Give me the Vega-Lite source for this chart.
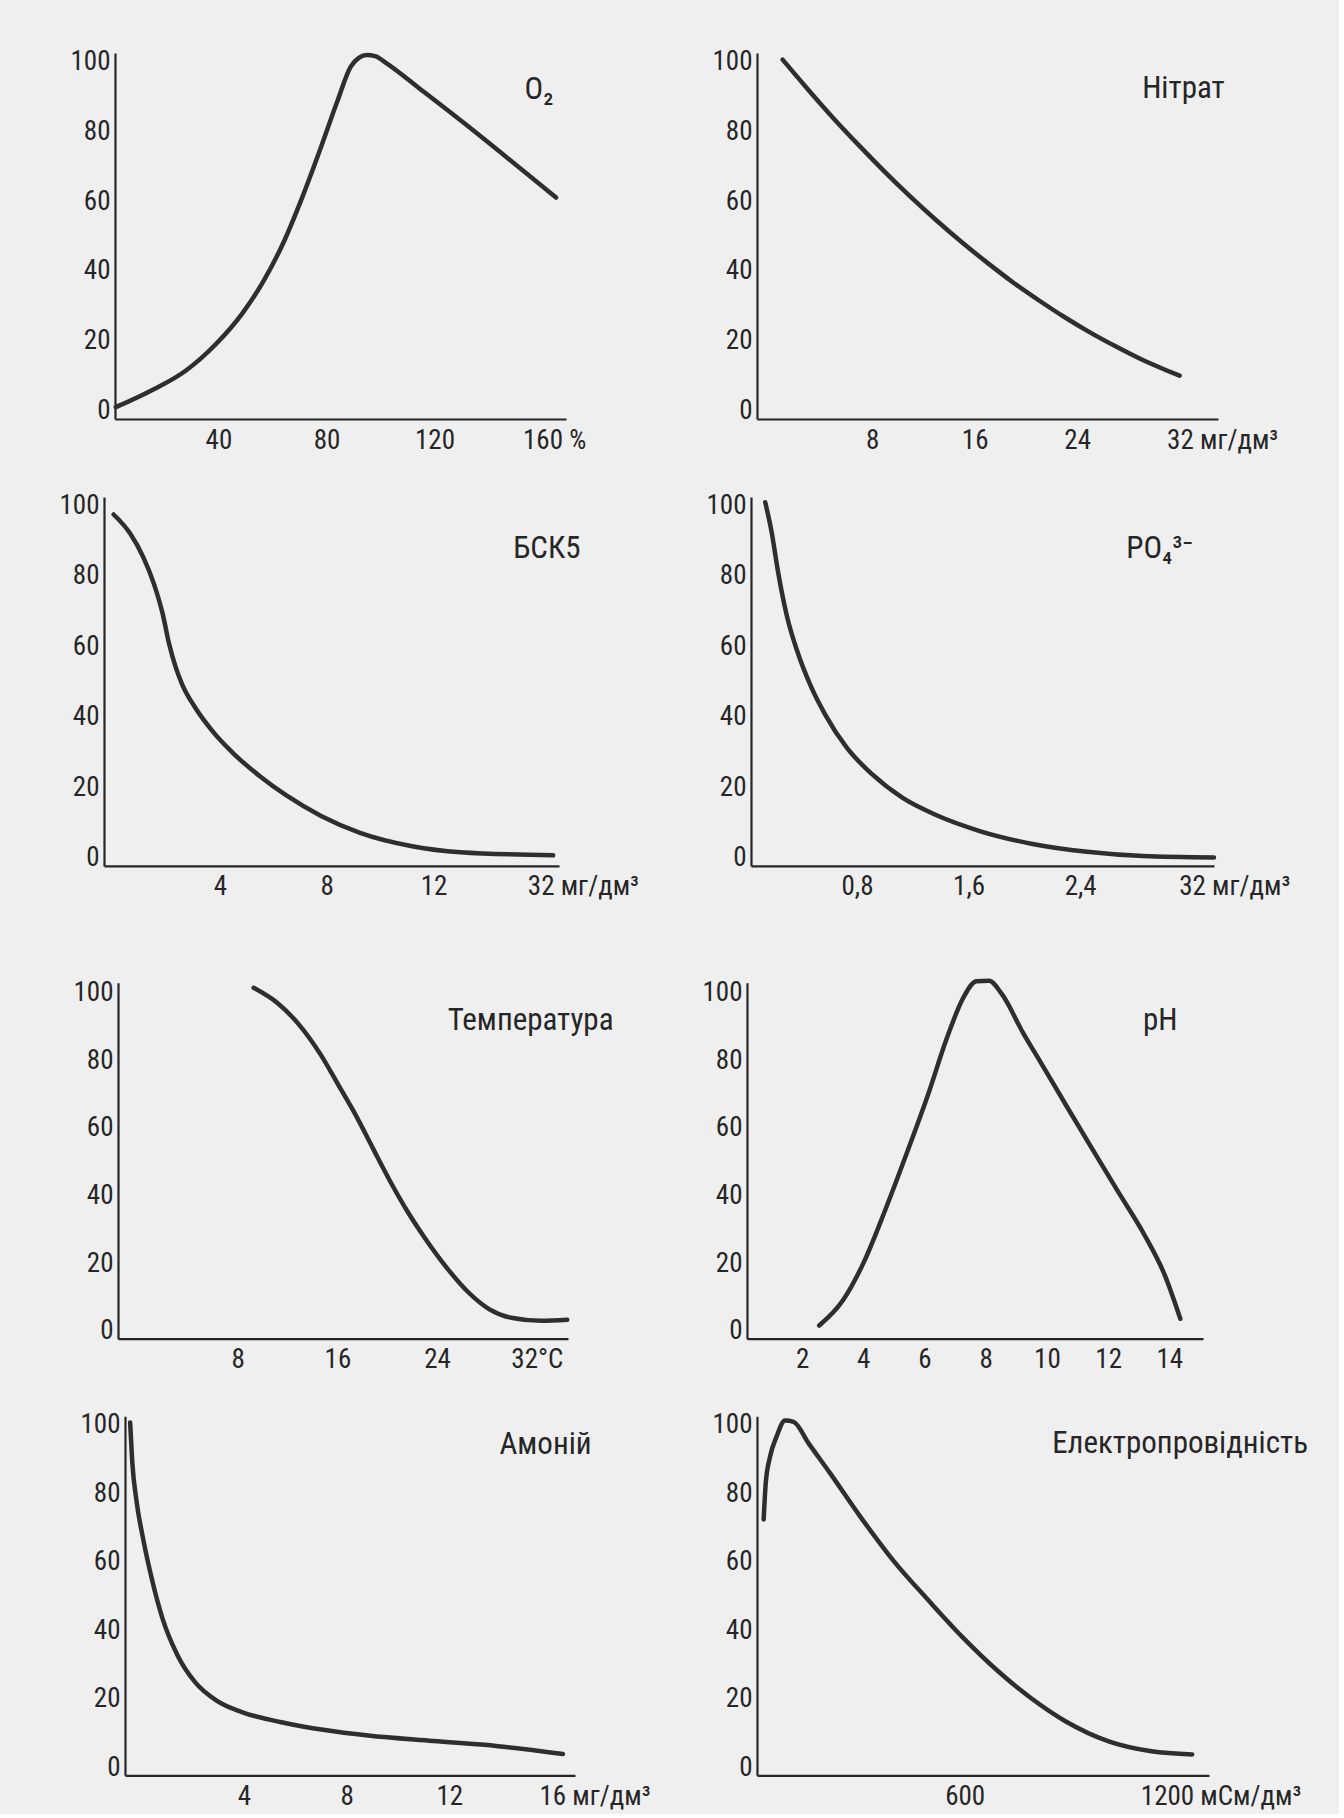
{
  "$schema": "https://vega.github.io/schema/vega-lite/v6.json",
  "background": "#efefef",
  "padding": {"left": 0, "top": 47, "right": 30, "bottom": 4},
  "datasets": {
    "curves": [
      {"panel": "O2", "x": 2, "y": 1}, {"panel": "O2", "x": 15, "y": 5.7}, {"panel": "O2", "x": 28, "y": 11.5}, {"panel": "O2", "x": 39, "y": 19}, {"panel": "O2", "x": 49, "y": 28}, {"panel": "O2", "x": 57, "y": 37.5}, {"panel": "O2", "x": 64, "y": 48}, {"panel": "O2", "x": 71, "y": 61}, {"panel": "O2", "x": 78, "y": 75.5}, {"panel": "O2", "x": 84, "y": 88.5}, {"panel": "O2", "x": 89, "y": 98.5}, {"panel": "O2", "x": 92, "y": 101}, {"panel": "O2", "x": 95, "y": 101.8}, {"panel": "O2", "x": 98, "y": 101.5}, {"panel": "O2", "x": 102, "y": 99.6}, {"panel": "O2", "x": 115, "y": 91.9}, {"panel": "O2", "x": 130, "y": 82.9}, {"panel": "O2", "x": 145, "y": 73.6}, {"panel": "O2", "x": 165, "y": 61},
      {"panel": "NO3", "x": 1, "y": 100.5}, {"panel": "NO3", "x": 3, "y": 91.9}, {"panel": "NO3", "x": 5, "y": 83.6}, {"panel": "NO3", "x": 7, "y": 75.8}, {"panel": "NO3", "x": 9, "y": 68.3}, {"panel": "NO3", "x": 11, "y": 61.2}, {"panel": "NO3", "x": 13, "y": 54.5}, {"panel": "NO3", "x": 15, "y": 48.2}, {"panel": "NO3", "x": 17, "y": 42.3}, {"panel": "NO3", "x": 19, "y": 36.7}, {"panel": "NO3", "x": 21, "y": 31.6}, {"panel": "NO3", "x": 23, "y": 26.8}, {"panel": "NO3", "x": 25, "y": 22.4}, {"panel": "NO3", "x": 27, "y": 18.4}, {"panel": "NO3", "x": 29, "y": 14.7}, {"panel": "NO3", "x": 31, "y": 11.5}, {"panel": "NO3", "x": 32, "y": 10},
      {"panel": "BSK5", "x": 0.02, "y": 97.4}, {"panel": "BSK5", "x": 0.64, "y": 92}, {"panel": "BSK5", "x": 1.13, "y": 85.3}, {"panel": "BSK5", "x": 1.53, "y": 77.7}, {"panel": "BSK5", "x": 1.86, "y": 69.1}, {"panel": "BSK5", "x": 2.1, "y": 60.6}, {"panel": "BSK5", "x": 2.35, "y": 53.9}, {"panel": "BSK5", "x": 2.59, "y": 49.1}, {"panel": "BSK5", "x": 3.08, "y": 42.5}, {"panel": "BSK5", "x": 3.73, "y": 35.8}, {"panel": "BSK5", "x": 4.54, "y": 29.3}, {"panel": "BSK5", "x": 5.51, "y": 23}, {"panel": "BSK5", "x": 6.49, "y": 17.6}, {"panel": "BSK5", "x": 7.79, "y": 11.8}, {"panel": "BSK5", "x": 9.25, "y": 7}, {"panel": "BSK5", "x": 11.2, "y": 3.2}, {"panel": "BSK5", "x": 13, "y": 1.5}, {"panel": "BSK5", "x": 16.48, "y": 0.6},
      {"panel": "PO4", "x": 0.142, "y": 100.9}, {"panel": "PO4", "x": 0.188, "y": 92.4}, {"panel": "PO4", "x": 0.234, "y": 81.1}, {"panel": "PO4", "x": 0.296, "y": 68.8}, {"panel": "PO4", "x": 0.373, "y": 58.4}, {"panel": "PO4", "x": 0.465, "y": 49}, {"panel": "PO4", "x": 0.573, "y": 40.5}, {"panel": "PO4", "x": 0.728, "y": 31.1}, {"panel": "PO4", "x": 0.912, "y": 23.5}, {"panel": "PO4", "x": 1.128, "y": 16.9}, {"panel": "PO4", "x": 1.375, "y": 11.9}, {"panel": "PO4", "x": 1.68, "y": 7.5}, {"panel": "PO4", "x": 2.05, "y": 3.9}, {"panel": "PO4", "x": 2.45, "y": 1.6}, {"panel": "PO4", "x": 2.85, "y": 0.4}, {"panel": "PO4", "x": 3.36, "y": 0},
      {"panel": "T", "x": 9.28, "y": 101.5}, {"panel": "T", "x": 11.19, "y": 97}, {"panel": "T", "x": 12.92, "y": 90.6}, {"panel": "T", "x": 14.66, "y": 81.7}, {"panel": "T", "x": 16.05, "y": 72.9}, {"panel": "T", "x": 17.44, "y": 64}, {"panel": "T", "x": 18.83, "y": 54.1}, {"panel": "T", "x": 20.22, "y": 44.3}, {"panel": "T", "x": 21.6, "y": 35.4}, {"panel": "T", "x": 23, "y": 27.5}, {"panel": "T", "x": 24.73, "y": 18.8}, {"panel": "T", "x": 26.46, "y": 11.5}, {"panel": "T", "x": 28.2, "y": 6.3}, {"panel": "T", "x": 29.94, "y": 3.8}, {"panel": "T", "x": 32.36, "y": 2.9}, {"panel": "T", "x": 34.44, "y": 3.2},
      {"panel": "pH", "x": 2.56, "y": 1.5}, {"panel": "pH", "x": 3.33, "y": 8.9}, {"panel": "pH", "x": 4.03, "y": 20.5}, {"panel": "pH", "x": 4.73, "y": 36}, {"panel": "pH", "x": 5.44, "y": 53}, {"panel": "pH", "x": 6.14, "y": 70.5}, {"panel": "pH", "x": 6.7, "y": 85.8}, {"panel": "pH", "x": 7.27, "y": 98.6}, {"panel": "pH", "x": 7.69, "y": 103.4}, {"panel": "pH", "x": 8.11, "y": 103.6}, {"panel": "pH", "x": 8.53, "y": 99.6}, {"panel": "pH", "x": 9.23, "y": 88}, {"panel": "pH", "x": 9.79, "y": 79.5}, {"panel": "pH", "x": 10.64, "y": 66.5}, {"panel": "pH", "x": 11.48, "y": 53.8}, {"panel": "pH", "x": 12.32, "y": 41.2}, {"panel": "pH", "x": 13.17, "y": 28.6}, {"panel": "pH", "x": 13.87, "y": 16}, {"panel": "pH", "x": 14.36, "y": 3.5},
      {"panel": "NH4", "x": -0.44, "y": 100.6}, {"panel": "NH4", "x": -0.36, "y": 89.4}, {"panel": "NH4", "x": -0.19, "y": 77.6}, {"panel": "NH4", "x": 0.06, "y": 66.9}, {"panel": "NH4", "x": 0.4, "y": 55.1}, {"panel": "NH4", "x": 0.82, "y": 43.4}, {"panel": "NH4", "x": 1.41, "y": 32.6}, {"panel": "NH4", "x": 2.09, "y": 24.8}, {"panel": "NH4", "x": 2.93, "y": 19.4}, {"panel": "NH4", "x": 3.94, "y": 16}, {"panel": "NH4", "x": 5.46, "y": 13.1}, {"panel": "NH4", "x": 7.15, "y": 10.8}, {"panel": "NH4", "x": 8.84, "y": 9.2}, {"panel": "NH4", "x": 11.37, "y": 7.6}, {"panel": "NH4", "x": 13.9, "y": 6.1}, {"panel": "NH4", "x": 16.43, "y": 3.8},
      {"panel": "EC", "x": 1.8, "y": 72.3}, {"panel": "EC", "x": 8, "y": 82.9}, {"panel": "EC", "x": 20.8, "y": 90.6}, {"panel": "EC", "x": 39.9, "y": 96.4}, {"panel": "EC", "x": 65.5, "y": 101.2}, {"panel": "EC", "x": 91, "y": 100.8}, {"panel": "EC", "x": 135.7, "y": 94.5}, {"panel": "EC", "x": 199.4, "y": 85.8}, {"panel": "EC", "x": 288.7, "y": 73.2}, {"panel": "EC", "x": 390.8, "y": 59.9}, {"panel": "EC", "x": 492.9, "y": 48.6}, {"panel": "EC", "x": 594.9, "y": 37.8}, {"panel": "EC", "x": 697, "y": 28.2}, {"panel": "EC", "x": 799, "y": 20}, {"panel": "EC", "x": 901, "y": 13.3}, {"panel": "EC", "x": 1028.6, "y": 7.5}, {"panel": "EC", "x": 1156, "y": 4.6}, {"panel": "EC", "x": 1277, "y": 3.7}
    ]
  },
  "spacing": 77.7,
  "vconcat": [
    {
      "spacing": 37.9,
      "vconcat": [
        {
          "bounds": "flush",
          "spacing": 1,
          "hconcat": [
            {"width": 114, "height": 1, "data": {"values": [{}]}, "mark": {"type": "point", "opacity": 0}},
            {
              "width": 451, "height": 366,
              "layer": [
                {
                  "data": {"name": "curves"},
                  "transform": [{"filter": "datum.panel == 'O2'"}],
                  "mark": {"type": "line", "interpolate": "monotone"},
                  "encoding": {
                    "x": {"field": "x", "type": "quantitative", "scale": {"domain": [1.7, 168.7], "nice": false, "zero": false},
                      "axis": {"title": null, "values": [40, 80, 120, 160], "labelExpr": "datum.value == 160 ? '160 %' : datum.label",
                        "labelAlign": {"condition": {"test": "datum.value == 160", "value": "left"}, "value": "center"},
                        "labelOffset": {"condition": {"test": "datum.value == 160", "value": -20}, "value": 0}}},
                    "y": {"field": "y", "type": "quantitative", "scale": {"domain": [-2.4, 102.4], "nice": false, "zero": false},
                      "axis": {"title": null, "values": [0, 20, 40, 60, 80, 100]}}
                  }
                },
                {
                  "data": {"values": [{"label": "O₂"}]},
                  "mark": {"type": "text"},
                  "encoding": {
                    "x": {"datum": 158.7, "type": "quantitative", "title": null},
                    "y": {"datum": 91.7, "type": "quantitative", "title": null},
                    "text": {"field": "label"}
                  }
                }
              ]
            },
            {"width": 189, "height": 1, "data": {"values": [{}]}, "mark": {"type": "point", "opacity": 0}},
            {
              "width": 461, "height": 366,
              "layer": [
                {
                  "data": {"name": "curves"},
                  "transform": [{"filter": "datum.panel == 'NO3'"}],
                  "mark": {"type": "line", "interpolate": "monotone"},
                  "encoding": {
                    "x": {"field": "x", "type": "quantitative", "scale": {"domain": [-1, 35], "nice": false, "zero": false},
                      "axis": {"title": null, "values": [8, 16, 24, 32], "labelExpr": "datum.value == 32 ? '32 мг/дм³' : datum.label",
                        "labelAlign": {"condition": {"test": "datum.value == 32", "value": "left"}, "value": "center"},
                        "labelOffset": {"condition": {"test": "datum.value == 32", "value": -13}, "value": 0}}},
                    "y": {"field": "y", "type": "quantitative", "scale": {"domain": [-2.4, 102.4], "nice": false, "zero": false},
                      "axis": {"title": null, "values": [0, 20, 40, 60, 80, 100]}}
                  }
                },
                {
                  "data": {"values": [{"label": "Нітрат"}]},
                  "mark": {"type": "text"},
                  "encoding": {
                    "x": {"datum": 32.3, "type": "quantitative", "title": null},
                    "y": {"datum": 92, "type": "quantitative", "title": null},
                    "text": {"field": "label"}
                  }
                }
              ]
            }
          ]
        },
        {
          "bounds": "flush",
          "spacing": 1,
          "hconcat": [
            {"width": 103, "height": 1, "data": {"values": [{}]}, "mark": {"type": "point", "opacity": 0}},
            {
              "width": 455, "height": 369,
              "layer": [
                {
                  "data": {"name": "curves"},
                  "transform": [{"filter": "datum.panel == 'BSK5'"}],
                  "mark": {"type": "line", "interpolate": "monotone"},
                  "encoding": {
                    "x": {"field": "x", "type": "quantitative", "scale": {"domain": [-0.34, 16.7], "nice": false, "zero": false},
                      "axis": {"title": null, "values": [4, 8, 12, 16], "labelExpr": "datum.value == 16 ? '32 мг/дм³' : datum.label",
                        "labelAlign": {"condition": {"test": "datum.value == 16", "value": "left"}, "value": "center"},
                        "labelOffset": {"condition": {"test": "datum.value == 16", "value": -13}, "value": 0}}},
                    "y": {"field": "y", "type": "quantitative", "scale": {"domain": [-2.4, 102.4], "nice": false, "zero": false},
                      "axis": {"title": null, "values": [0, 20, 40, 60, 80, 100]}}
                  }
                },
                {
                  "data": {"values": [{"label": "БСК5"}]},
                  "mark": {"type": "text"},
                  "encoding": {
                    "x": {"datum": 16.25, "type": "quantitative", "title": null},
                    "y": {"datum": 87.7, "type": "quantitative", "title": null},
                    "text": {"field": "label"}
                  }
                }
              ]
            },
            {"width": 190, "height": 1, "data": {"values": [{}]}, "mark": {"type": "point", "opacity": 0}},
            {
              "width": 463, "height": 369,
              "layer": [
                {
                  "data": {"name": "curves"},
                  "transform": [{"filter": "datum.panel == 'PO4'"}],
                  "mark": {"type": "line", "interpolate": "monotone"},
                  "encoding": {
                    "x": {"field": "x", "type": "quantitative", "scale": {"domain": [0.04, 3.36], "nice": false, "zero": false},
                      "axis": {"title": null, "values": [0.8, 1.6, 2.4, 3.2], "labelExpr": "datum.value == 3.2 ? '32 мг/дм³' : replace(datum.label, '.', ',')",
                        "labelAlign": {"condition": {"test": "datum.value == 3.2", "value": "left"}, "value": "center"},
                        "labelOffset": {"condition": {"test": "datum.value == 3.2", "value": -13}, "value": 0}}},
                    "y": {"field": "y", "type": "quantitative", "scale": {"domain": [-2.4, 102.4], "nice": false, "zero": false},
                      "axis": {"title": null, "values": [0, 20, 40, 60, 80, 100]}}
                  }
                },
                {
                  "data": {"values": [{"label": "PO₄³⁻"}]},
                  "mark": {"type": "text"},
                  "encoding": {
                    "x": {"datum": 2.97, "type": "quantitative", "title": null},
                    "y": {"datum": 87.5, "type": "quantitative", "title": null},
                    "text": {"field": "label"}
                  }
                }
              ]
            }
          ]
        }
      ]
    },
    {
      "spacing": 37.6,
      "vconcat": [
        {
          "bounds": "flush",
          "spacing": 1,
          "hconcat": [
            {"width": 117, "height": 1, "data": {"values": [{}]}, "mark": {"type": "point", "opacity": 0}},
            {
              "width": 450, "height": 356,
              "layer": [
                {
                  "data": {"name": "curves"},
                  "transform": [{"filter": "datum.panel == 'T'"}],
                  "mark": {"type": "line", "interpolate": "monotone"},
                  "encoding": {
                    "x": {"field": "x", "type": "quantitative", "scale": {"domain": [-1.6, 34.5], "nice": false, "zero": false},
                      "axis": {"title": null, "values": [8, 16, 24, 32], "labelExpr": "datum.value == 32 ? '32°C' : datum.label"}},
                    "y": {"field": "y", "type": "quantitative", "scale": {"domain": [-2.4, 103], "nice": false, "zero": false},
                      "axis": {"title": null, "values": [0, 20, 40, 60, 80, 100]}}
                  }
                },
                {
                  "data": {"values": [{"label": "Температура"}]},
                  "mark": {"type": "text"},
                  "encoding": {
                    "x": {"datum": 31.5, "type": "quantitative", "title": null},
                    "y": {"datum": 91.8, "type": "quantitative", "title": null},
                    "text": {"field": "label"}
                  }
                }
              ]
            },
            {"width": 177, "height": 1, "data": {"values": [{}]}, "mark": {"type": "point", "opacity": 0}},
            {
              "width": 456, "height": 356,
              "layer": [
                {
                  "data": {"name": "curves"},
                  "transform": [{"filter": "datum.panel == 'pH'"}],
                  "mark": {"type": "line", "interpolate": "monotone"},
                  "encoding": {
                    "x": {"field": "x", "type": "quantitative", "scale": {"domain": [0.2, 15.1], "nice": false, "zero": false},
                      "axis": {"title": null, "values": [2, 4, 6, 8, 10, 12, 14]}},
                    "y": {"field": "y", "type": "quantitative", "scale": {"domain": [-2.4, 103], "nice": false, "zero": false},
                      "axis": {"title": null, "values": [0, 20, 40, 60, 80, 100]}}
                  }
                },
                {
                  "data": {"values": [{"label": "pH"}]},
                  "mark": {"type": "text"},
                  "encoding": {
                    "x": {"datum": 13.7, "type": "quantitative", "title": null},
                    "y": {"datum": 91.6, "type": "quantitative", "title": null},
                    "text": {"field": "label"}
                  }
                }
              ]
            }
          ]
        },
        {
          "bounds": "flush",
          "spacing": 1,
          "hconcat": [
            {"width": 124, "height": 1, "data": {"values": [{}]}, "mark": {"type": "point", "opacity": 0}},
            {
              "width": 450, "height": 359,
              "layer": [
                {
                  "data": {"name": "curves"},
                  "transform": [{"filter": "datum.panel == 'NH4'"}],
                  "mark": {"type": "line", "interpolate": "monotone"},
                  "encoding": {
                    "x": {"field": "x", "type": "quantitative", "scale": {"domain": [-0.64, 16.9], "nice": false, "zero": false},
                      "axis": {"title": null, "values": [4, 8, 12, 16], "labelExpr": "datum.value == 16 ? '16 мг/дм³' : datum.label",
                        "labelAlign": {"condition": {"test": "datum.value == 16", "value": "left"}, "value": "center"},
                        "labelOffset": {"condition": {"test": "datum.value == 16", "value": -13}, "value": 0}}},
                    "y": {"field": "y", "type": "quantitative", "scale": {"domain": [-2.4, 102.4], "nice": false, "zero": false},
                      "axis": {"title": null, "values": [0, 20, 40, 60, 80, 100]}}
                  }
                },
                {
                  "data": {"values": [{"label": "Амоній"}]},
                  "mark": {"type": "text"},
                  "encoding": {
                    "x": {"datum": 15.75, "type": "quantitative", "title": null},
                    "y": {"datum": 94.1, "type": "quantitative", "title": null},
                    "text": {"field": "label"}
                  }
                }
              ]
            },
            {"width": 180, "height": 1, "data": {"values": [{}]}, "mark": {"type": "point", "opacity": 0}},
            {
              "width": 452, "height": 359,
              "layer": [
                {
                  "data": {"name": "curves"},
                  "transform": [{"filter": "datum.panel == 'EC'"}],
                  "mark": {"type": "line", "interpolate": "monotone"},
                  "encoding": {
                    "x": {"field": "x", "type": "quantitative", "scale": {"domain": [-18, 1327], "nice": false, "zero": false},
                      "axis": {"title": null, "values": [600, 1200], "labelExpr": "datum.value == 1200 ? '1200 мСм/дм³' : '600'",
                        "labelAlign": {"condition": {"test": "datum.value == 1200", "value": "left"}, "value": "center"},
                        "labelOffset": {"condition": {"test": "datum.value == 1200", "value": -26}, "value": 0}}},
                    "y": {"field": "y", "type": "quantitative", "scale": {"domain": [-2.4, 102.4], "nice": false, "zero": false},
                      "axis": {"title": null, "values": [0, 20, 40, 60, 80, 100]}}
                  }
                },
                {
                  "data": {"values": [{"label": "Електропровідність"}]},
                  "mark": {"type": "text"},
                  "encoding": {
                    "x": {"datum": 1241, "type": "quantitative", "title": null},
                    "y": {"datum": 94.2, "type": "quantitative", "title": null},
                    "text": {"field": "label"}
                  }
                }
              ]
            }
          ]
        }
      ]
    }
  ],
  "config": {
    "view": {"stroke": null},
    "font": "Roboto Condensed, Liberation Sans Narrow, DejaVu Sans Condensed, sans-serif",
    "axis": {
      "domainColor": "#262626", "domainWidth": 2.2, "ticks": false, "tickSize": 0, "grid": false,
      "labelFont": "Roboto Condensed, Liberation Sans Narrow, DejaVu Sans Condensed, sans-serif",
      "labelFontSize": 27, "labelColor": "#262626", "labelFlush": false, "labelOverlap": false
    },
    "axisX": {"labelPadding": 8},
    "axisY": {"labelPadding": 5},
    "text": {"font": "Roboto Condensed, Liberation Sans Narrow, DejaVu Sans Condensed, sans-serif", "fontSize": 31, "color": "#262626", "align": "center", "baseline": "middle"},
    "line": {"color": "#2e2e2e", "strokeWidth": 4.5, "strokeCap": "round", "strokeJoin": "round"}
  }
}
